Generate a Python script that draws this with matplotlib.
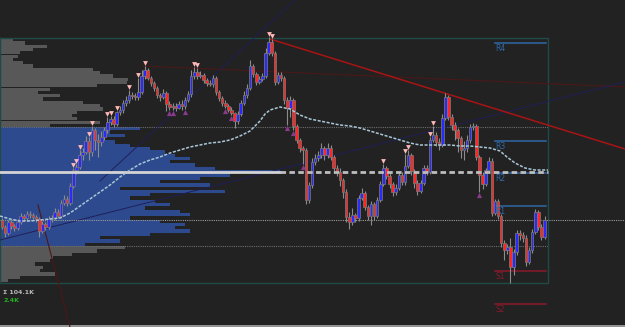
import matplotlib.pyplot as plt
import numpy as np

# price levels are measured downward from the top of the chart (inverted y axis)
first_open = 220
close = [227, 233, 222, 226, 228, 222, 216, 218, 214, 215, 217, 219, 231, 224, 227, 219, 218, 212, 216, 203,
         199, 203, 186, 170, 167, 155, 152, 141, 152, 130, 140, 142, 137, 130, 122, 119, 124, 112, 110, 103,
         100, 95, 96, 97, 92, 76, 70, 78, 83, 88, 95, 97, 93, 104, 107, 106, 108, 104, 106, 100,
         94, 76, 72, 76, 75, 80, 83, 84, 78, 92, 98, 103, 106, 110, 113, 121, 114, 103, 95, 88,
         66, 74, 82, 79, 76, 53, 42, 53, 82, 75, 78, 100, 108, 100, 126, 140, 148, 150, 200, 185,
         162, 158, 155, 148, 155, 148, 157, 168, 172, 180, 192, 217, 222, 215, 218, 198, 193, 207, 216, 204,
         216, 200, 184, 168, 176, 184, 192, 188, 175, 182, 166, 155, 171, 183, 191, 183, 168, 172, 140, 135,
         142, 145, 118, 97, 117, 125, 130, 138, 150, 148, 140, 127, 126, 157, 175, 184, 170, 161, 213, 201,
         216, 243, 250, 247, 267, 252, 233, 235, 238, 262, 250, 232, 212, 227, 237, 220]
high = [218, 225, 220, 220, 224, 219, 213, 214, 211, 211, 213, 215, 217, 221, 222, 216, 215, 208, 209, 200,
        195, 196, 183, 168, 164, 150, 148, 136, 137, 126, 128, 134, 131, 127, 117, 116, 116, 111, 106, 100,
        96, 90, 92, 93, 78, 70, 66, 68, 76, 81, 86, 93, 89, 91, 101, 103, 103, 101, 100, 97,
        91, 70, 67, 68, 71, 73, 78, 80, 75, 76, 90, 96, 100, 104, 107, 112, 111, 100, 91, 84,
        60, 64, 72, 76, 73, 48, 37, 39, 51, 72, 72, 76, 97, 96, 98, 124, 138, 146, 148, 182,
        158, 154, 151, 143, 146, 143, 145, 155, 165, 168, 178, 189, 212, 208, 213, 195, 188, 191, 205, 201,
        202, 197, 181, 164, 166, 173, 182, 184, 172, 172, 154, 150, 153, 169, 180, 180, 165, 165, 137, 126,
        132, 138, 114, 93, 95, 114, 122, 128, 136, 141, 135, 124, 123, 124, 155, 172, 168, 157, 158, 199,
        199, 214, 240, 244, 238, 249, 230, 230, 232, 235, 247, 229, 209, 210, 224, 216]
low = [229, 237, 235, 229, 231, 230, 224, 221, 220, 218, 219, 222, 237, 233, 230, 229, 222, 220, 218, 218,
       205, 206, 205, 188, 174, 169, 160, 154, 160, 156, 150, 157, 146, 140, 133, 125, 127, 126, 115, 113,
       106, 103, 99, 100, 100, 94, 79, 80, 86, 91, 98, 101, 99, 111, 110, 110, 111, 109, 110, 109,
       102, 97, 79, 79, 78, 83, 86, 86, 87, 95, 101, 106, 108, 112, 115, 128, 124, 116, 105, 98,
       90, 77, 85, 84, 81, 78, 55, 56, 85, 84, 81, 104, 125, 117, 130, 143, 152, 164, 204, 203,
       188, 165, 161, 158, 160, 158, 160, 171, 176, 186, 198, 222, 229, 225, 222, 221, 200, 210, 220, 225,
       220, 218, 202, 186, 179, 188, 196, 195, 190, 185, 185, 168, 175, 188, 195, 193, 185, 175, 174, 142,
       146, 150, 147, 120, 120, 130, 140, 152, 158, 160, 152, 143, 130, 160, 192, 189, 186, 172, 216, 215,
       219, 247, 260, 254, 283, 275, 255, 240, 242, 266, 264, 253, 234, 230, 240, 239]

# fractal style signals (candle index)
sell_marks = [23, 24, 25, 28, 29, 34, 35, 37, 41, 44, 46, 62, 63, 86, 87, 123, 130, 131, 138, 139]
buy_marks = [54, 55, 59, 72, 74, 92, 94, 97, 154]

# moving average (bar position, level)
ma_x = [0, 10, 20, 30, 40, 50, 60, 70, 80, 90, 100, 110, 120, 130, 140, 150, 160, 170, 180, 190,
        200, 210, 220, 230, 240, 250, 260, 265, 270, 280, 290, 300, 310, 320, 330, 340, 350, 360, 370, 380,
        390, 400, 410, 420, 430, 440, 450, 460, 470, 480, 490, 500, 507, 515, 525, 535, 548]
ma_y = [216, 219, 221, 221, 220, 219, 218, 213, 206, 199, 192, 185, 177, 170, 164, 160, 157, 153, 150, 147,
        145, 143, 142, 140, 136, 131, 121, 114, 110, 107, 109, 115, 119, 121, 123, 125, 126, 128, 131, 134,
        137, 140, 143, 145, 145, 145, 145, 146, 146, 147, 148, 151, 157, 163, 168, 170, 170]

# volume profile
profile_top = 38
profile_step = 3.3
profile_len = [13, 25, 47, 33, 20, 18, 13, 23, 33, 93, 100, 113, 128, 127, 97, 50, 38, 60, 43, 83,
               100, 103, 77, 72, 77, 100, 50,
               140, 110, 125, 100, 115, 130, 150, 165, 175, 190, 170, 195, 215, 280, 230, 200, 160, 210,
               120, 225, 150, 130, 155, 170, 145, 180, 190, 130, 160, 185, 175, 190, 150, 100, 120, 85,
               125, 97, 72, 53, 50, 35, 43, 40, 55, 20, 8]
va_rows = (27, 63)

pivot_names = ["R4", "R3", "R2", "R1", "S1", "S2"]
pivot_levels = [43, 141, 172.5, 206, 271, 304]

BG = "#222222"
fig = plt.figure(figsize=(6.25, 3.27), dpi=100)
fig.patch.set_facecolor(BG)
ax = fig.add_axes([0, 0, 1, 1])
ax.set_facecolor(BG)
ax.set_xlim(0, 625)
ax.set_ylim(327, 0)
ax.axis("off")

# profile bars
for k, ln in enumerate(profile_len):
    col = "#2e4a8f" if va_rows[0] <= k < va_rows[1] else "#585858"
    ax.barh(profile_top + k * profile_step, ln, height=profile_step, left=0,
            align="edge", color=col, linewidth=0, zorder=1)

vah = profile_top + va_rows[0] * profile_step
val = profile_top + va_rows[1] * profile_step
poc_k = int(np.argmax(profile_len))
poc = profile_top + (poc_k + 0.6) * profile_step

frame_r = 548
ax.plot([0, frame_r], [vah, vah], color="#6e6e6e", lw=0.8, ls=(0, (1, 1)), zorder=2)
ax.plot([0, frame_r], [val, val], color="#6e6e6e", lw=0.8, ls=(0, (1, 1)), zorder=2)
ax.plot([0, profile_len[poc_k]], [poc, poc], color="#d4d4d4", lw=2, zorder=6)
ax.plot([profile_len[poc_k], frame_r], [poc, poc], color="#bdbdbd", lw=2, ls=(0, (2, 1.2)), zorder=6)

# frame
ax.plot([0, frame_r, frame_r, 0, 0], [38, 38, 283, 283, 38], color="#1f4a46", lw=1, zorder=2)
ax.axhline(326, color="#aaaaaa", lw=1.2, zorder=2)

# trend lines
ax.plot([270, 625], [39, 149], color="#a81414", lw=1.1, zorder=3)
ax.plot([143, 625], [66, 87], color="#4a1818", lw=0.8, zorder=2)
ax.plot([0, 625], [240, 82], color="#1f1f58", lw=0.7, zorder=2)
ax.plot([100, 295], [181, 0], color="#1f1f58", lw=0.7, zorder=2)
ax.plot([38, 70], [205, 327], color="#4e1616", lw=0.8, zorder=2)

# candles
n = len(close)
xs = 2 + 3.1 * np.arange(n)
opens = np.array([first_open] + close[:-1])
cl = np.array(close)
ax.vlines(xs, high, low, color="#8c8c8c", lw=0.8, zorder=4)
top = np.minimum(opens, cl)
h = np.maximum(np.abs(cl - opens), 0.8)
cols = np.where(cl < opens, "#2a2aff", "#ff2626")
ax.bar(xs, h, bottom=top, width=2.6, color=cols, edgecolor="#7a7a7a", linewidth=0.5, zorder=5)

# moving average
ax.plot(ma_x, ma_y, color="#a9c6d6", lw=1.1, ls=(0, (2, 1)), zorder=6)

# signals
ax.scatter(xs[sell_marks], np.array(high)[sell_marks] - 3, marker="v", s=12, color="#ffb9b9", zorder=7, linewidths=0)
ax.scatter(xs[buy_marks], np.array(low)[buy_marks] + 3, marker="^", s=14, color="#8a3a8a", zorder=7, linewidths=0)

# last price
ax.axhline(close[-1], color="#9a9a9a", lw=0.8, ls=(0, (1, 1)), zorder=3)

# pivots
for name, lvl in zip(pivot_names, pivot_levels):
    c = "#2f68a6" if name.startswith("R") else "#8a1a2a"
    ax.plot([495, 546], [lvl, lvl], color=c, lw=1.1, zorder=3)
    ax.text(495, lvl + 1.2, name, color=c, fontsize=5.5, va="top", ha="left", zorder=8)

ax.text(3, 293, "Σ 104.1K", color="#bbbbbb", fontsize=4.5, va="center", ha="left", fontweight="bold")
ax.text(3, 300, "2.4K", color="#22b022", fontsize=4.5, va="center", ha="left", fontweight="bold")

fig.savefig("out.png", dpi=100, facecolor=BG)
